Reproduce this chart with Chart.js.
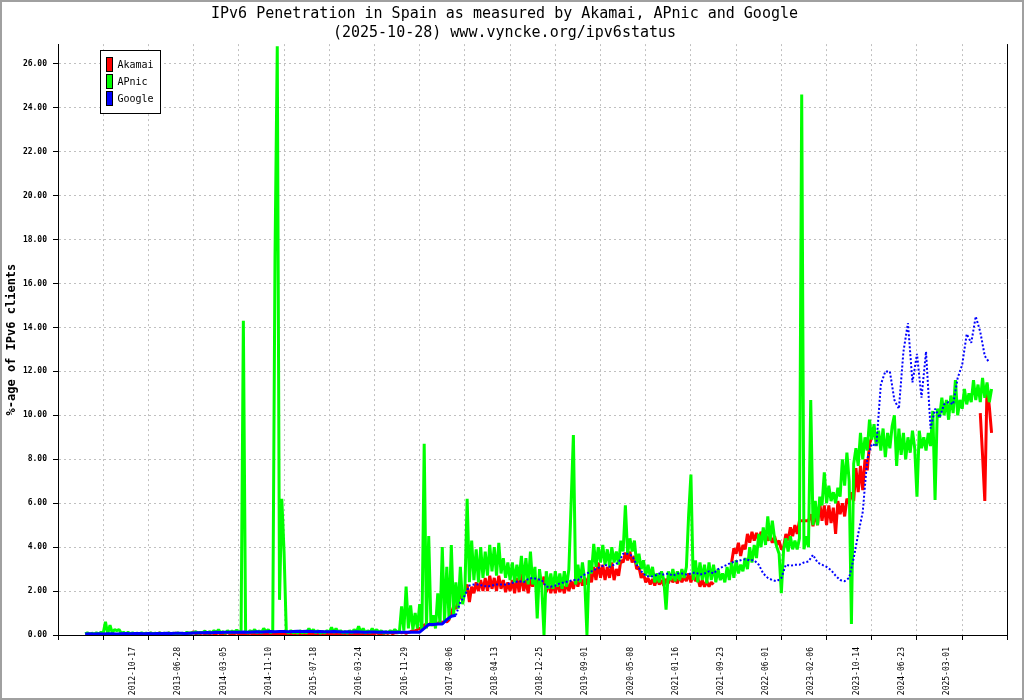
<!DOCTYPE html>
<html lang="en">
<head>
<meta charset="UTF-8">
<title>IPv6 Penetration in Spain</title>
<script src="https://cdn.jsdelivr.net/npm/chart.js@4"></script>
<style>
  body { margin: 0; background: #fff; }
  canvas { display: block; }
</style>
</head>
<body>
<canvas id="ipv6Chart" width="1024" height="700"></canvas>
<script>
// x unit = one sample (about 12.5 days), a tick every 20 samples
const SAMPLES_PER_TICK = 20;
const LAST_SAMPLE = 420;

const tickDates = [
  '2012-10-17', '2013-06-28', '2014-03-05', '2014-11-10', '2015-07-18',
  '2016-03-24', '2016-11-29', '2017-08-06', '2018-04-13', '2018-12-25',
  '2019-09-01', '2020-05-08', '2021-01-16', '2021-09-23', '2022-06-01',
  '2023-02-06', '2023-10-14', '2024-06-23', '2025-03-01'
];

// Akamai, one value per sample, starting at sample 10
const akamaiStart = 10;
const akamai = [
  null, null, null, null, null, null, null, null, null, null,
  null, null, null, null, null, null, null, null, null, null,
  null, null, null, null, null, null, null, null, null, null,
  0.05, 0.08, 0.04, 0.06, 0.05, 0.09, 0.04, 0.07, 0.05, 0.08,
  0.06, 0.04, 0.08, 0.05, 0.07, 0.04, 0.06, 0.05, 0.08, 0.06,
  0.15, 0.05, 0.08, 0.06, 0.1, 0.04, 0.07, 0.05, 0.09, 0.06,
  0.06, 0.1, 0.05, 0.08, 0.06, 0.12, 0.05, 0.08, 0.06, 0.1,
  0.05, 0.08, 0.04, 0.07, 0.05, 0.09, 0.04, 0.06, 0.03, 0.05,
  0.03, 0.06, 0.02, 0.05, 0.03, 0.08, 0.02, 0.05, 0.03, 0.06,
  0.02, 0.05, 0.03, 0.07, 0.02, 0.05, 0.03, 0.06, 0.02, 0.05,
  0.03, 0.06, 0.02, 0.05, 0.04, 0.07, 0.03, 0.05, 0.02, 0.06,
  0.03, 0.05, 0.02, 0.06, 0.03, 0.05, 0.02, 0.07, 0.03, 0.05,
  0.03, 0.06, 0.02, 0.05, 0.03, 0.07, 0.04, 0.06, 0.05, 0.08,
  0.06, 0.1, 0.05, 0.08, 0.06, 0.1, 0.07, 0.12, 0.06, 0.1,
  0.1, 0.15, 0.1, 0.12, 0.08, 0.12, 0.15, 0.2, 0.18, 0.25,
  0.3, 0.35, 0.45, 0.5, 0.45, 0.55, 0.45, 0.6, 0.5, 0.6,
  0.55, 0.65, 0.6, 0.7, 1.0, 1.3, 1.2, 1.5, 1.9, 1.6,
  2.0, 2.3, 1.5, 2.2, 1.9, 2.4, 2.0, 2.5, 2.0, 2.6,
  2.0, 2.7, 2.1, 2.6, 2.0, 2.7, 2.1, 2.5, 1.95, 2.4,
  2.0, 2.5, 1.9, 2.6, 1.95, 2.8, 2.0, 2.5, 1.9, 2.6,
  2.2, 2.7, 2.2, 2.6, 2.3, 2.65, 1.95, 2.4, 1.9, 2.35,
  1.9, 2.4, 1.95, 2.3, 1.9, 2.4, 2.0, 2.45, 2.1, 2.6,
  2.2, 2.7, 2.25, 2.6, 2.3, 2.8, 2.4, 3.1, 2.5, 3.3,
  2.6, 3.2, 2.5, 3.1, 2.6, 3.3, 2.5, 3.0, 2.7, 3.4,
  3.3, 3.75, 3.4, 3.8, 3.3, 3.6, 3.0, 3.1, 2.6, 2.8,
  2.4, 2.6, 2.3, 2.55, 2.25, 2.6, 2.3, 2.5, 2.25, 2.55,
  2.35, 2.65, 2.4, 2.6, 2.35, 2.7, 2.4, 2.65, 2.45, 2.8,
  2.4, 2.8, 2.45, 2.6, 2.2, 2.5, 2.2, 2.45, 2.2, 2.4,
  2.3, null, null, null, null, null, null, null, 3.3, 3.95,
  3.7, 4.2, 3.6, 4.1, 3.9, 4.6, 4.2, 4.7, 4.3, 4.65,
  4.3, 4.7, 4.4, 4.6, 4.3, 4.5, 4.2, 4.5, 4.1, 4.3,
  3.9, 4.0, 4.6, 4.3, 4.9, 4.5, 5.0, 4.6, 5.2, 5.2,
  5.2, 5.2, 5.2, 5.5, 4.95, 5.6, 5.0, 6.0, 5.2, 5.9,
  5.0, 5.9, 5.1, 5.8, 4.6, 6.1, 5.5, 6.0, 5.4, 6.2,
  6.0, 6.5, 6.1, 7.6, 6.5, 7.7, 6.6, 8.0, 7.5, 8.7,
  9.0, null, null, null, null, null, null, null, null, null,
  null, null, null, null, null, null, null, null, null, null,
  null, null, null, null, null, null, null, null, null, null,
  null, null, null, null, null, null, null, null, null, null,
  null, null, null, null, null, null, null, null, 10.1, 8.2,
  6.1, 11.4, 10.4, 9.2
];

// APnic, one value per sample, starting at sample 10
const apnicStart = 10;
const apnic = [
  null, null, 0.05, 0.1, 0.03, 0.08, 0.04, 0.1, 0.05, 0.12,
  0.08, 0.6, 0.05, 0.45, 0.1, 0.25, 0.2, 0.25, 0.08, 0.12,
  0.05, 0.12, 0.06, 0.1, 0.05, 0.08, 0.04, 0.1, 0.05, 0.08,
  0.06, 0.1, 0.05, 0.08, 0.04, 0.1, 0.06, 0.08, 0.05, 0.1,
  0.05, 0.08, 0.06, 0.1, 0.05, 0.08, 0.06, 0.12, 0.07, 0.1,
  0.1, 0.15, 0.08, 0.12, 0.1, 0.18, 0.08, 0.15, 0.1, 0.2,
  0.1, 0.25, 0.1, 0.15, 0.08, 0.2, 0.1, 0.18, 0.12, 0.22,
  0.12, 0.2, 14.3, 0.15, 0.1, 0.2, 0.12, 0.25, 0.1, 0.18,
  0.1, 0.3, 0.15, 0.25, 0.1, 0.2, 17.2, 26.8, 1.6, 6.2,
  3.8, 0.15, 0.1, 0.2, 0.1, 0.15, 0.08, 0.2, 0.1, 0.15,
  0.1, 0.3, 0.12, 0.25, 0.1, 0.2, 0.08, 0.15, 0.1, 0.2,
  0.12, 0.35, 0.1, 0.3, 0.12, 0.2, 0.1, 0.15, 0.08, 0.2,
  0.1, 0.25, 0.12, 0.4, 0.1, 0.3, 0.08, 0.2, 0.1, 0.3,
  0.12, 0.25, 0.1, 0.2, 0.08, 0.15, 0.1, 0.2, 0.12, 0.25,
  0.15, 0.1, 1.3, 0.2, 2.2, 0.3, 1.35, 0.25, 1.0, 0.3,
  1.4, 0.2, 8.7, 0.3, 4.5, 0.4, 0.9, 0.3, 1.9, 0.5,
  4.0, 0.6, 3.1, 0.7, 4.1, 0.9, 2.4, 1.2, 3.1, 1.4,
  2.0, 6.2, 2.4, 4.3, 2.5, 3.9, 2.4, 4.0, 2.6, 3.8,
  2.7, 4.1, 2.9, 4.0, 2.7, 4.2, 2.8, 3.5, 2.6, 3.3,
  2.5, 3.3, 2.4, 3.2, 2.5, 3.6, 2.4, 3.5, 2.3, 3.8,
  2.3, 3.1, 0.75, 3.0, 2.2, 0.0, 2.9, 2.1, 2.8, 2.1,
  2.9, 2.2, 2.8, 2.1, 2.9, 2.2, 3.0, 6.0, 9.1, 2.3,
  3.2, 2.4, 3.3, 2.5, 0.0, 3.4, 2.8, 4.15, 3.1, 4.0,
  3.3, 4.1, 3.2, 3.9, 3.1, 4.0, 3.3, 3.8, 3.2, 4.3,
  3.8, 5.9, 3.7, 4.4, 3.8, 4.3, 3.2, 3.7, 3.0, 3.4,
  2.7, 3.2, 2.65, 3.1, 2.4, 2.8, 2.4, 2.9, 2.5, 1.15,
  2.9, 2.5, 3.0, 2.45, 2.9, 2.5, 3.0, 2.6, 3.1, 5.5,
  7.3, 2.5, 3.4, 2.4, 3.3, 2.5, 3.2, 2.35, 3.3, 2.5,
  3.2, 2.4, 3.0, 2.5, 2.8, 2.4, 3.1, 2.5, 3.3, 2.6,
  3.4, 2.8, 3.2, 2.9, 3.5, 3.0, 4.0, 3.3, 4.1, 3.5,
  4.6, 4.0, 4.9, 4.1, 5.4, 4.3, 5.2, 4.4, 4.0, 3.7,
  1.9, 3.9, 4.4, 3.8, 4.5, 3.9, 4.3, 3.9, 4.4, 24.6,
  3.9, 4.5, 4.0, 10.7, 5.0, 6.1, 5.0, 6.3, 5.9, 7.4,
  6.0, 6.8, 6.1, 6.5, 6.0, 6.7, 6.3, 8.0, 6.8, 8.3,
  7.0, 0.5, 7.8, 8.5, 7.7, 9.2, 8.0, 9.0, 8.4, 9.8,
  8.9, 9.6, 8.6, 9.3, 8.4, 9.4, 8.1, 9.2, 8.5, 9.5,
  10.0, 7.7, 9.4, 8.2, 9.2, 8.0, 9.0, 8.3, 9.3, 8.5,
  6.3, 9.3, 8.5, 9.0, 8.4, 9.2, 8.6, 10.2, 6.15, 10.3,
  9.9, 10.8, 10.0, 10.7, 9.8, 10.9, 10.1, 11.6, 10.0, 10.7,
  10.3, 11.2, 10.5, 11.0, 10.6, 11.6, 10.7, 11.4, 10.6, 11.7,
  10.8, 11.5, 10.6, 11.2
];

// Google, one value every 2 samples, starting at sample 12
const googleStart = 12;
const googleStep = 2;
const google = [
  0.05, 0.06, 0.05, 0.06,
  0.05, 0.06, 0.06, 0.05, 0.06, 0.07, 0.06, 0.07, 0.07, 0.06,
  0.07, 0.06, 0.07, 0.07, 0.08, 0.07, 0.08, 0.08, 0.07, 0.08,
  0.09, 0.1, 0.1, 0.11, 0.1, 0.12, 0.11, 0.12, 0.12, 0.13,
  0.13, 0.14, 0.13, 0.14, 0.15, 0.14, 0.15, 0.16, 0.15, 0.16,
  0.16, 0.15, 0.16, 0.17, 0.16, 0.17, 0.16, 0.15, 0.16, 0.15,
  0.15, 0.16, 0.15, 0.14, 0.15, 0.14, 0.15, 0.14, 0.13, 0.14,
  0.14, 0.13, 0.14, 0.13, 0.12, 0.13, 0.12, 0.12, 0.12, 0.13,
  0.13, 0.3, 0.48, 0.48, 0.5, 0.5, 0.7, 0.85, 0.9, 1.5,
  1.8, 2.25, 2.3, 2.3, 2.25, 2.2, 2.25, 2.3, 2.3, 2.3,
  2.35, 2.4, 2.45, 2.4, 2.55, 2.6, 2.55, 2.5, 2.2, 2.2,
  2.25, 2.35, 2.4, 2.45, 2.5, 2.5, 2.7, 2.8, 2.9, 3.0,
  3.1, 3.2, 3.1, 3.2, 3.3, 3.7, 3.7, 3.6, 3.2, 2.9,
  2.7, 2.65, 2.7, 2.8, 2.75, 2.8, 2.7, 2.8, 2.8, 2.75,
  2.8, 2.85, 2.75, 2.8, 2.9, 2.8, 3.0, 3.1, 3.2, 3.3,
  3.35, 3.4, 3.45, 3.4, 3.4, 3.2, 2.8, 2.6, 2.5, 2.45,
  2.6, 3.2, 3.15, 3.2, 3.2, 3.3, 3.35, 3.65, 3.3, 3.2,
  3.1, 2.95, 2.7, 2.5, 2.45, 2.6, 3.5, 4.6, 5.6, 8.0,
  8.7, 8.6, 11.4, 12.0, 12.0, 10.7, 10.3, 12.9, 14.2, 11.5,
  12.8, 10.8, 12.9, 9.4, 10.3, 9.9, 10.5, 10.6, 10.5, 11.7,
  12.3, 13.7, 13.3, 14.5, 13.8, 12.7, 12.4
];

const MONO = "'DejaVu Sans Mono', monospace";

function toPoints(values, start, step) {
  return values.map((v, i) => ({ x: start + i * step, y: v }));
}

// right frame line, legend box and outer grey border
const framePlugin = {
  id: 'frame',
  afterDraw(chart) {
    const { ctx, chartArea } = chart;
    ctx.save();
    ctx.strokeStyle = '#000';
    ctx.lineWidth = 1;
    const rx = Math.round(chartArea.right) + 0.5;
    ctx.beginPath();
    ctx.moveTo(rx, chartArea.top);
    ctx.lineTo(rx, chartArea.bottom);
    ctx.stroke();

    const lx = 100.5, ly = 50.5;
    ctx.fillStyle = '#fff';
    ctx.fillRect(lx, ly, 60, 63);
    ctx.strokeRect(lx, ly, 60, 63);
    ctx.font = '10px ' + MONO;
    ctx.textBaseline = 'middle';
    chart.data.datasets.forEach((ds, i) => {
      const y = ly + 7 + i * 17;
      ctx.fillStyle = ds.legendColor;
      ctx.fillRect(lx + 6, y, 6, 14);
      ctx.strokeRect(lx + 6, y, 6, 14);
      ctx.fillStyle = '#000';
      ctx.fillText(ds.label, lx + 17, y + 8);
    });

    ctx.strokeStyle = '#a0a0a0';
    ctx.lineWidth = 2;
    ctx.strokeRect(1, 1, 1022, 698);
    ctx.restore();
  }
};

const ctx = document.getElementById('ipv6Chart').getContext('2d');
new Chart(ctx, {
  type: 'line',
  data: {
    datasets: [
      {
        label: 'Akamai',
        data: toPoints(akamai, akamaiStart, 1),
        borderColor: '#ff0000',
        legendColor: '#ff0000',
        borderWidth: 3,
        order: 3
      },
      {
        label: 'APnic',
        data: toPoints(apnic, apnicStart, 1),
        borderColor: '#00ff00',
        legendColor: '#00ff00',
        borderWidth: 3,
        order: 2
      },
      {
        label: 'Google',
        data: toPoints(google, googleStart, googleStep),
        borderColor: '#0000ff',
        legendColor: '#0000ff',
        borderWidth: 2,
        borderDash: [2, 2],
        // the near-zero years look like a solid thick line
        segment: {
          borderDash: c => (c.p0.parsed.y < 1 && c.p1.parsed.y < 1 ? [] : undefined),
          borderWidth: c => (c.p0.parsed.y < 1 && c.p1.parsed.y < 1 ? 3 : undefined)
        },
        order: 1
      }
    ]
  },
  options: {
    responsive: false,
    animation: false,
    events: [],
    spanGaps: false,
    layout: { padding: { left: 0, right: 15, top: 0, bottom: 0 } },
    elements: {
      point: { radius: 0 },
      line: { tension: 0, borderJoinStyle: 'bevel', fill: false }
    },
    plugins: {
      legend: { display: false },
      tooltip: { enabled: false },
      title: {
        display: true,
        text: [
          'IPv6 Penetration in Spain as measured by Akamai, APnic and Google',
          '(2025-10-28) www.vyncke.org/ipv6status'
        ],
        color: '#000',
        font: { family: MONO, size: 15, weight: 'normal', lineHeight: 1.27 },
        padding: { top: 5, bottom: 1 }
      }
    },
    scales: {
      x: {
        type: 'linear',
        min: 0,
        max: LAST_SAMPLE,
        afterFit: scale => { scale.height = 65; },
        grid: { color: '#c0c0c0', lineWidth: 1, tickColor: '#000', tickWidth: 1, tickLength: 5 },
        border: { color: '#000', width: 1, dash: [2, 3] },
        ticks: {
          stepSize: SAMPLES_PER_TICK,
          autoSkip: false,
          includeBounds: false,
          minRotation: 90,
          maxRotation: 90,
          labelOffset: 30,
          padding: 7,
          color: '#000',
          font: { family: MONO, size: 8 },
          callback: function (value) {
            const t = Math.round(value / SAMPLES_PER_TICK);
            return t >= 1 && t <= tickDates.length ? tickDates[t - 1] : '';
          }
        }
      },
      y: {
        min: 0,
        max: 26.9,
        afterFit: scale => { scale.width = 58; },
        grid: { color: '#c0c0c0', lineWidth: 1, tickColor: '#000', tickWidth: 1, tickLength: 5 },
        border: { color: '#000', width: 1, dash: [2, 3] },
        title: {
          display: true,
          text: '%-age of IPv6 clients',
          color: '#000',
          font: { family: MONO, size: 12, weight: 'bold' },
          padding: { top: 5, bottom: 0 }
        },
        ticks: {
          stepSize: 2,
          includeBounds: false,
          padding: 6,
          color: '#000',
          font: { family: MONO, size: 8, weight: 'bold' },
          callback: v => v.toFixed(2)
        }
      }
    }
  },
  plugins: [framePlugin]
});
</script>
</body>
</html>
